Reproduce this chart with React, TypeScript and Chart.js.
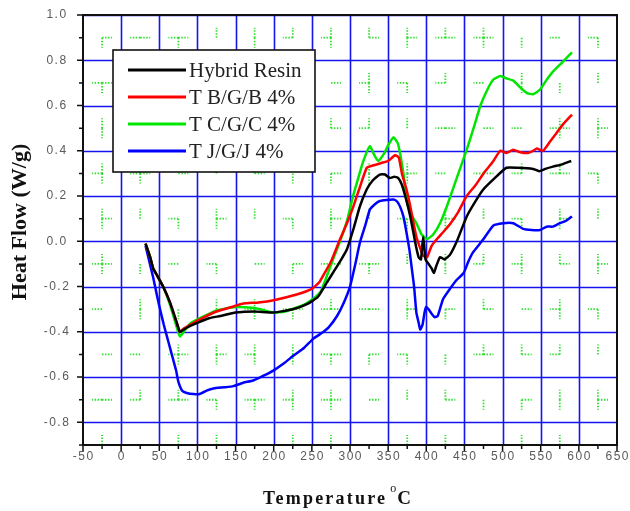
import React, { useEffect, useRef } from "react";
import { Chart, registerables } from "chart.js";

Chart.register(...registerables);

// ---------- data ----------
const xTickValues = [-50, 0, 50, 100, 150, 200, 250, 300, 350, 400, 450, 500, 550, 600, 650];
const yTickValues = [-0.8, -0.6, -0.4, -0.2, 0.0, 0.2, 0.4, 0.6, 0.8, 1.0];
const seriesNames = ["Hybrid Resin", "T B/G/B 4%", "T C/G/C 4%", "T J/G/J 4%"];
const seriesColors = ["#000000", "#ff0000", "#00e600", "#0000ff"];

const hybridT = [32, 38, 42, 47, 55, 64, 72, 77, 82, 90, 100, 115, 130, 150, 175, 200, 225, 245, 258, 270, 285, 296, 305, 313, 322, 330, 339, 346, 352, 358, 363, 368, 374, 379, 383, 387, 390, 393, 396, 399, 403, 407, 410, 413, 418, 424, 431, 440, 453, 465, 475, 490, 505, 520, 540, 548, 556, 566, 578, 590];
const hybridV = [-0.01, -0.07, -0.12, -0.15, -0.2, -0.27, -0.35, -0.40, -0.39, -0.375, -0.36, -0.34, -0.33, -0.315, -0.31, -0.315, -0.30, -0.275, -0.245, -0.18, -0.10, -0.035, 0.06, 0.155, 0.23, 0.27, 0.295, 0.295, 0.28, 0.285, 0.28, 0.25, 0.18, 0.11, 0.04, -0.03, -0.07, -0.08, 0.02, -0.08, -0.10, -0.12, -0.14, -0.11, -0.07, -0.08, -0.06, 0.0, 0.11, 0.18, 0.23, 0.28, 0.325, 0.325, 0.32, 0.31, 0.32, 0.33, 0.34, 0.355];

const tbT = [32, 38, 42, 47, 55, 64, 72, 77, 82, 90, 100, 125, 150, 160, 180, 200, 230, 250, 260, 265, 275, 287, 296, 304, 313, 322, 330, 340, 350, 359, 364, 368, 374, 379, 387, 393, 396, 401, 407, 414, 422, 431, 442, 453, 465, 475, 487, 497, 505, 514, 522, 532, 540, 545, 553, 562, 571, 580, 591];
const tbV = [-0.01, -0.07, -0.12, -0.15, -0.2, -0.27, -0.35, -0.40, -0.385, -0.37, -0.35, -0.31, -0.285, -0.275, -0.27, -0.26, -0.235, -0.21, -0.18, -0.15, -0.09, 0.01, 0.08, 0.15, 0.24, 0.325, 0.335, 0.345, 0.355, 0.38, 0.37, 0.30, 0.23, 0.155, 0.02, -0.04, -0.065, -0.07, -0.02, 0.01, 0.04, 0.075, 0.13, 0.2, 0.25, 0.30, 0.35, 0.40, 0.39, 0.405, 0.395, 0.39, 0.40, 0.41, 0.40, 0.44, 0.48, 0.52, 0.56];

const tcT = [32, 38, 42, 47, 55, 64, 72, 77, 82, 90, 100, 125, 150, 175, 200, 215, 240, 255, 262, 270, 280, 287, 296, 304, 310, 317, 326, 332, 337, 345, 351, 357, 363, 370, 374, 380, 387, 394, 401, 409, 418, 427, 440, 453, 462, 471, 480, 488, 497, 505, 514, 523, 532, 540, 549, 557, 566, 578, 591];
const tcV = [-0.01, -0.07, -0.12, -0.15, -0.2, -0.28, -0.37, -0.42, -0.40, -0.365, -0.345, -0.305, -0.29, -0.295, -0.315, -0.31, -0.28, -0.245, -0.22, -0.15, -0.06, 0.0, 0.09, 0.2, 0.27, 0.35, 0.42, 0.38, 0.355, 0.39, 0.43, 0.46, 0.43, 0.3, 0.185, 0.12, 0.08, 0.03, 0.01, 0.03, 0.08, 0.155, 0.28, 0.405, 0.50, 0.60, 0.67, 0.715, 0.73, 0.72, 0.71, 0.68, 0.655, 0.65, 0.67, 0.71, 0.75, 0.79, 0.835];

const tjT = [32, 37, 42, 47, 51, 56, 60, 64, 68, 72, 75, 80, 86, 95, 103, 112, 121, 135, 147, 160, 173, 186, 200, 213, 226, 240, 252, 261, 272, 283, 292, 300, 307, 313, 320, 326, 333, 339, 348, 357, 362, 366, 370, 374, 378, 381, 384, 387, 390, 392, 395, 398, 400, 403, 407, 411, 415, 422, 431, 440, 449, 455, 461, 468, 475, 488, 501, 514, 527, 538, 549, 558, 566, 575, 583, 591];
const tjV = [-0.02, -0.09, -0.16, -0.24, -0.3, -0.37, -0.42, -0.47, -0.52, -0.57, -0.62, -0.66, -0.67, -0.675, -0.675, -0.66, -0.65, -0.645, -0.64, -0.625, -0.615, -0.595, -0.57, -0.54, -0.505, -0.47, -0.43, -0.41, -0.38, -0.33, -0.27, -0.2, -0.1, -0.005, 0.07, 0.14, 0.165, 0.178, 0.183, 0.185, 0.175, 0.15, 0.11, 0.04, -0.04, -0.12, -0.2, -0.315, -0.36, -0.39, -0.37, -0.31, -0.29, -0.30, -0.32, -0.335, -0.33, -0.255, -0.21, -0.17, -0.14, -0.09, -0.05, -0.02, 0.01, 0.07, 0.08, 0.08, 0.055, 0.05, 0.05, 0.065, 0.065, 0.08, 0.09, 0.11];

const seriesT = [hybridT, tbT, tcT, tjT];
const seriesV = [hybridV, tbV, tcV, tjV];

const X_MIN = -50, X_MAX = 650, Y_MIN = -0.9, Y_MAX = 1.0;

const decorPlugin = {
  id: "decor",
  beforeDatasetsDraw(chart: any) {
    const { ctx, chartArea: a, scales } = chart;
    const x = scales.x, y = scales.y;
    ctx.save();
    ctx.fillStyle = "#ffffff";
    ctx.fillRect(a.left, a.top, a.right - a.left, a.bottom - a.top);
    ctx.beginPath();
    ctx.rect(a.left, a.top, a.right - a.left, a.bottom - a.top);
    ctx.clip();
    // green dotted minor marks
    ctx.strokeStyle = "#2fe02f";
    ctx.lineWidth = 1.8;
    ctx.setLineDash([1.5, 1.5]);
    let i = 0;
    for (let xv = -25; xv < X_MAX; xv += 50, i++) {
      let j = 0;
      for (let yv = -0.9; yv < Y_MAX; yv += 0.2, j++) {
        const cx = x.getPixelForValue(xv);
        const cy = y.getPixelForValue(yv);
        const mask = ((i * 5 + j * 11 + i * j * 3) % 15) + 1;
        const L = 10;
        ctx.beginPath();
        if (mask & 1) { ctx.moveTo(cx, cy); ctx.lineTo(cx, cy - L); }
        if (mask & 2) { ctx.moveTo(cx, cy); ctx.lineTo(cx, cy + L); }
        if (mask & 4) { ctx.moveTo(cx, cy); ctx.lineTo(cx - L, cy); }
        if (mask & 8) { ctx.moveTo(cx, cy); ctx.lineTo(cx + L, cy); }
        ctx.stroke();
      }
    }
    ctx.setLineDash([]);
    // blue grid
    ctx.strokeStyle = "#1414f0";
    ctx.lineWidth = 1.6;
    ctx.beginPath();
    for (let xv = 0; xv < X_MAX; xv += 50) {
      const px = Math.round(x.getPixelForValue(xv)) + 0.5;
      ctx.moveTo(px, a.top); ctx.lineTo(px, a.bottom);
    }
    for (const yv of yTickValues) {
      const py = Math.round(y.getPixelForValue(yv)) + 0.5;
      ctx.moveTo(a.left, py); ctx.lineTo(a.right, py);
    }
    ctx.stroke();
    ctx.restore();
  },
  afterDatasetsDraw(chart: any) {
    const { ctx, chartArea: a, scales } = chart;
    const x = scales.x, y = scales.y;
    ctx.save();
    // frame
    ctx.strokeStyle = "#111";
    ctx.lineWidth = 2;
    ctx.strokeRect(a.left, a.top, a.right - a.left, a.bottom - a.top);
    // tick marks
    ctx.lineWidth = 1.5;
    ctx.beginPath();
    for (let xv = X_MIN; xv <= X_MAX; xv += 25) {
      const px = x.getPixelForValue(xv);
      const major = Math.abs(xv % 50) < 1e-6;
      ctx.moveTo(px, a.bottom); ctx.lineTo(px, a.bottom + (major ? 6 : 4));
    }
    for (let k = 0; k <= 19; k++) {
      const yv = Y_MIN + k * 0.1;
      const py = y.getPixelForValue(yv);
      const major = k % 2 === 1;
      ctx.moveTo(a.left, py); ctx.lineTo(a.left - (major ? 6 : 4), py);
    }
    ctx.stroke();
    // tick labels
    ctx.fillStyle = "#5a5a5a";
    ctx.font = "12px 'Liberation Sans', Arial, sans-serif";
    (ctx as any).letterSpacing = "1.5px";
    ctx.textAlign = "center";
    ctx.textBaseline = "middle";
    for (const xv of xTickValues) {
      ctx.fillText(String(xv), x.getPixelForValue(xv) + 0.75, a.bottom + 12);
    }
    for (const yv of yTickValues) {
      ctx.fillText(yv.toFixed(1), a.left - 26, y.getPixelForValue(yv));
    }
    // x title
    ctx.fillStyle = "#111";
    ctx.textAlign = "left";
    ctx.textBaseline = "alphabetic";
    ctx.font = "bold 18px 'Liberation Serif', 'Times New Roman', serif";
    (ctx as any).letterSpacing = "2.2px";
    const cxm = (a.left + a.right) / 2;
    const tx = cxm - 87;
    const base = 504;
    ctx.fillText("Temperature", tx, base);
    const w1 = ctx.measureText("Temperature").width;
    (ctx as any).letterSpacing = "0px";
    ctx.font = "12px 'Liberation Serif', serif";
    ctx.fillText("o", tx + w1 + 3, base - 12);
    ctx.font = "bold 19px 'Liberation Serif', serif";
    ctx.fillText("C", tx + w1 + 10, base);
    // y title
    ctx.save();
    ctx.translate(20, (a.top + a.bottom) / 2 - 8);
    ctx.rotate(-Math.PI / 2);
    ctx.textAlign = "center";
    ctx.textBaseline = "middle";
    ctx.font = "bold 22px 'Liberation Serif', 'Times New Roman', serif";
    ctx.fillText("Heat Flow (W/g)", 0, 0);
    ctx.restore();
    // legend
    const lx = a.left + 30, ly = a.top + 35, lw = 202, lh = 122;
    ctx.fillStyle = "#ffffff";
    ctx.fillRect(lx, ly, lw, lh);
    ctx.strokeStyle = "#111";
    ctx.lineWidth = 1.6;
    ctx.strokeRect(lx, ly, lw, lh);
    ctx.font = "21px 'Liberation Serif', 'Times New Roman', serif";
    ctx.textBaseline = "middle";
    ctx.textAlign = "left";
    seriesNames.forEach((name, k) => {
      const ry = ly + 20 + k * 27;
      ctx.strokeStyle = seriesColors[k];
      ctx.lineWidth = 3;
      ctx.beginPath();
      ctx.moveTo(lx + 15, ry); ctx.lineTo(lx + 73, ry);
      ctx.stroke();
      ctx.fillStyle = "#222";
      ctx.fillText(name, lx + 76, ry + 1);
    });
    ctx.restore();
  },
};

export default function App() {
  const ref = useRef<HTMLCanvasElement | null>(null);
  useEffect(() => {
    if (!ref.current) return;
    const datasets = seriesNames.map((name, k) => ({
      label: name,
      data: seriesT[k].map((t, idx) => ({ x: t, y: seriesV[k][idx] })),
      borderColor: seriesColors[k],
      backgroundColor: seriesColors[k],
      borderWidth: 2.5,
      pointRadius: 0,
      tension: 0.15,
      fill: false,
      showLine: true,
    }));
    const chart = new Chart(ref.current, {
      type: "scatter",
      data: { datasets },
      options: {
        animation: false,
        responsive: false,
        maintainAspectRatio: false,
        layout: { padding: { left: 0, top: 15, right: 13, bottom: 0 } },
        plugins: { legend: { display: false }, tooltip: { enabled: false } },
        scales: {
          x: {
            type: "linear",
            min: X_MIN,
            max: X_MAX,
            grid: { display: false, drawTicks: false },
            border: { display: false },
            ticks: { display: false, stepSize: 50 },
            afterFit: (s: any) => { s.height = 66; },
          },
          y: {
            type: "linear",
            min: Y_MIN,
            max: Y_MAX,
            grid: { display: false, drawTicks: false },
            border: { display: false },
            ticks: { display: false, stepSize: 0.2 },
            afterFit: (s: any) => { s.width = 83; },
          },
        },
      },
      plugins: [decorPlugin],
    });
    return () => chart.destroy();
  }, []);
  return (
    <div style={{ position: "fixed", left: 0, top: 0, width: 630, height: 511, background: "#fff" }}>
      <canvas ref={ref} width={630} height={511} style={{ display: "block" }} />
    </div>
  );
}
